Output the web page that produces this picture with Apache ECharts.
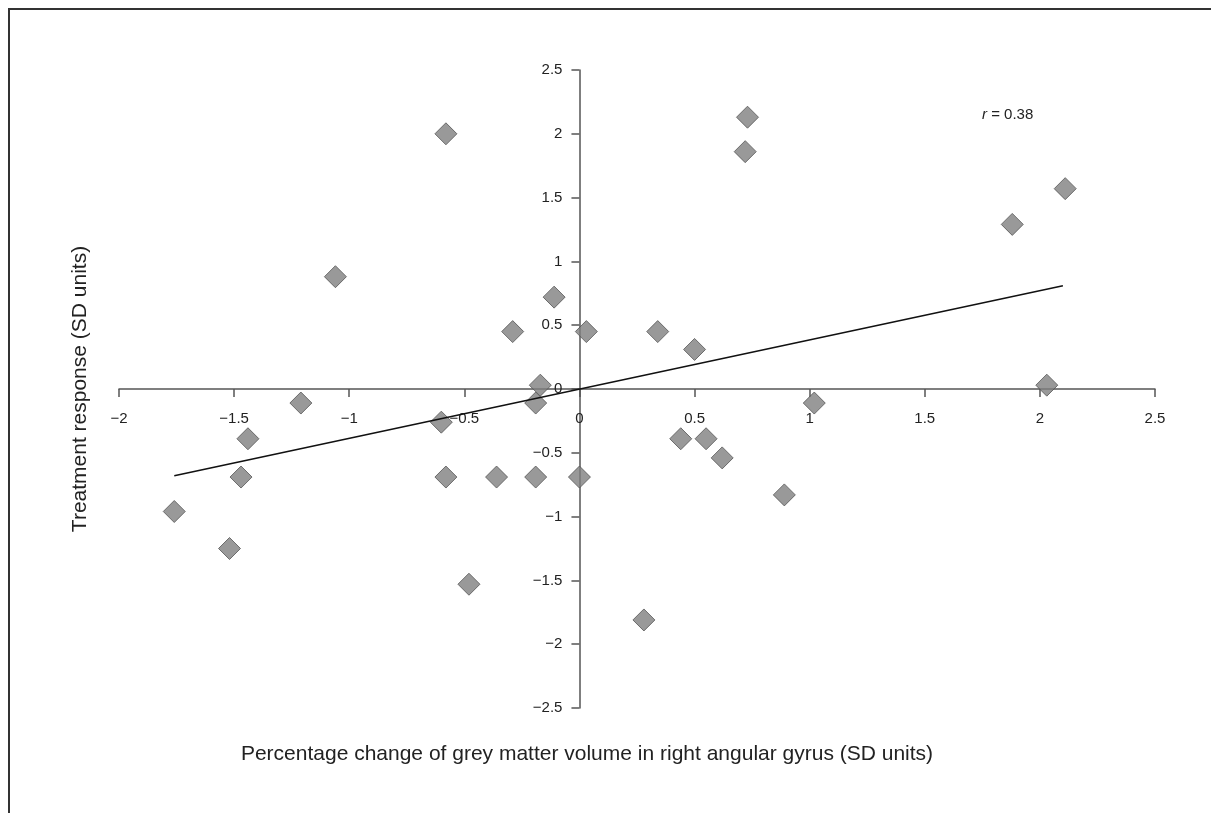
<!DOCTYPE html>
<html>
<head>
<meta charset="utf-8">
<script src="https://cdn.jsdelivr.net/npm/echarts@6/dist/echarts.min.js"></script>
<style>
html,body{margin:0;padding:0;background:#fff;}
#chart{width:1211px;height:813px;}
</style>
</head>
<body>
<div id="chart"></div>
<script>
// Percentage change of grey matter volume (x) vs treatment response (y), SD units
var xValues = [-1.76, -1.52, -1.44, -1.47, -1.21, -1.06, -0.58, -0.60, -0.58, -0.48, -0.36, -0.29, -0.19, -0.19, -0.17, -0.11, 0.00, 0.03, 0.28, 0.34, 0.44, 0.50, 0.55, 0.62, 0.72, 0.73, 0.89, 1.02, 1.88, 2.03, 2.11];
var yValues = [-0.96, -1.25, -0.39, -0.69, -0.11, 0.88, 2.00, -0.26, -0.69, -1.53, -0.69, 0.45, -0.69, -0.11, 0.03, 0.72, -0.69, 0.45, -1.81, 0.45, -0.39, 0.31, -0.39, -0.54, 1.86, 2.13, -0.83, -0.11, 1.29, 0.03, 1.57];
var fitX = [-1.76, 2.10];
var fitY = [-0.68, 0.81];
var xTitle = 'Percentage change of grey matter volume in right angular gyrus (SD units)';
var yTitle = 'Treatment response (SD units)';
var rLabel = '0.38';

var points = xValues.map(function (x, i) { return [x, yValues[i]]; });
var fitLine = fitX.map(function (x, i) { return [x, fitY[i]]; });
function fmt(v) { return String(v).replace('-', '\u2212'); }

var gridLeft = 119, gridRight = 56, gridTop = 70, gridBottom = 105;
var W = 1211, H = 813;
var xMin = -2, xMax = 2.5, yMin = -2.5, yMax = 2.5;
var plotW = W - gridLeft - gridRight, plotH = H - gridTop - gridBottom;
// shift axes so they cross at the origin
var yAxisOffset = -plotW * (0 - xMin) / (xMax - xMin);
var xAxisOffset = -plotH * (0 - yMin) / (yMax - yMin);

var chart = echarts.init(document.getElementById('chart'));
var font = '"Liberation Sans", Arial, Helvetica, sans-serif';
chart.setOption({
  animation: false,
  textStyle: { fontFamily: font },
  grid: { left: gridLeft, right: gridRight, top: gridTop, bottom: gridBottom },
  xAxis: {
    type: 'value', min: xMin, max: xMax, interval: 0.5, position: 'bottom', offset: xAxisOffset,
    axisLine: { onZero: false, lineStyle: { color: '#555', width: 1.5 } },
    axisTick: { show: true, inside: false, length: 8, lineStyle: { color: '#555', width: 1.5 } },
    axisLabel: { formatter: fmt, color: '#222', fontSize: 15, margin: 22, fontFamily: font },
    splitLine: { show: false }
  },
  yAxis: {
    type: 'value', min: yMin, max: yMax, interval: 0.5, position: 'left', offset: yAxisOffset,
    axisLine: { onZero: false, lineStyle: { color: '#555', width: 1.5 } },
    axisTick: { show: true, inside: false, length: 8, lineStyle: { color: '#555', width: 1.5 } },
    axisLabel: { formatter: fmt, color: '#222', fontSize: 15, margin: 17, fontFamily: font },
    splitLine: { show: false }
  },
  series: [
    {
      type: 'line', data: fitLine, symbol: 'none',
      lineStyle: { color: '#111', width: 1.5 }, z: 3
    },
    {
      type: 'scatter', data: points, symbol: 'diamond', symbolSize: 22,
      itemStyle: { color: '#808080', borderColor: '#555', borderWidth: 1 }, z: 2
    }
  ],
  graphic: [
    { type: 'line', shape: { x1: 8, y1: 9, x2: 1211, y2: 9 }, style: { stroke: '#333', lineWidth: 2 } },
    { type: 'line', shape: { x1: 9, y1: 9, x2: 9, y2: 813 }, style: { stroke: '#333', lineWidth: 2 } },
    {
      type: 'text', x: 982, y: 115,
      style: {
        text: '{i|r} = ' + rLabel,
        rich: { i: { fontStyle: 'italic', fontSize: 15, fill: '#222', fontFamily: font } },
        fontSize: 15, fill: '#222', fontFamily: font, verticalAlign: 'middle'
      }
    },
    {
      type: 'text', x: 587, y: 754,
      style: { text: xTitle, fontSize: 21, fill: '#222', fontFamily: font, align: 'center', verticalAlign: 'middle' }
    },
    {
      type: 'text', x: 80, y: 389, rotation: Math.PI / 2,
      style: { text: yTitle, fontSize: 21, fill: '#222', fontFamily: font, align: 'center', verticalAlign: 'middle' }
    }
  ]
});
</script>
</body>
</html>
